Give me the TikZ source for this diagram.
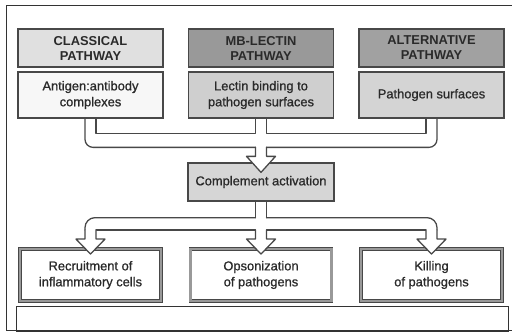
\documentclass[tikz,border=0pt]{standalone}
\usepackage{fontspec}
\setmainfont{Liberation Sans}
\newfontfamily\medfont{Liberation Sans}[FakeBold=0.9]
\usetikzlibrary{calc}
\definecolor{edge}{HTML}{484848}
\definecolor{ink}{HTML}{2A2A2A}
\newcommand{\hw}{5.5}% half width of the pipes

\begin{document}
\begin{tikzpicture}[x=0.03cm,y=-0.03cm,
    box/.style={draw=edge, line width=1.1pt, minimum width=4.35cm, inner sep=0pt,
        align=center, text=ink, font=\medfont\fontsize{11}{13.6}\selectfont},
    head/.style={box, minimum height=1.14cm, font=\bfseries\fontsize{11}{12.8}\selectfont},
    body/.style={box, minimum height=1.38cm},
    result/.style={box, line width=0.75pt, double=black!40, double distance=1.8pt,
        minimum width=4.23cm, minimum height=1.56cm},
    pipe/.style={draw=edge, line width=1.1pt, line cap=round, line join=round},
    frame/.style={draw=black!80, line width=0.6pt}]

    \useasboundingbox (0,0) rectangle (512,331);

    % outer frame and empty caption box
    \draw[frame] (512,5) -- (6,5) -- (6,330) -- (512,330);
    \draw[frame] (16,306) rectangle (508,331);

    % pathways
    \node[head, fill=black!12] (classhead) at (90.5,48) {CLASSICAL\\PATHWAY};
    \node[head, fill=black!40] (lectinhead) at (261,48) {MB-LECTIN\\PATHWAY};
    \node[head, fill=black!37] (althead) at (431.5,48) {ALTERNATIVE\\PATHWAY};
    \node[body, fill=black!3] (classbody) at (90.5,95) {Antigen:antibody\\complexes};
    \node[body, fill=black!19] (lectinbody) at (261,95) {Lectin binding to\\pathogen surfaces};
    \node[body, fill=black!17] (altbody) at (431.5,95) {Pathogen surfaces};

    % activation
    \node[box, fill=black!16, minimum width=4.38cm, minimum height=1.14cm] (act) at (261,182) {Complement activation};

    % outcomes
    \node[result] (recruit) at (90.5,275) {Recruitment of\\inflammatory cells};
    \node[result] (opson) at (261,275) {Opsonization\\of pathogens};
    \node[result] (kill) at (431.5,275) {Killing\\of pathogens};

    % merging pipe into activation
    \draw[pipe] ($(classbody.south)+(\hw,0)$) |- ($(lectinbody.south)+(-\hw,15)$) -- ($(lectinbody.south)+(-\hw,0)$);
    \draw[pipe] ($(lectinbody.south)+(\hw,0)$) |- ($(altbody.south)+(-\hw,15)$) -- ($(altbody.south)+(-\hw,0)$);
    \draw[pipe, rounded corners=0.24cm] ($(classbody.south)+(-\hw,0)$) |- ($(act.north)+(-\hw,-15)$);
    \draw[pipe, rounded corners=0.24cm] ($(altbody.south)+(\hw,0)$) |- ($(act.north)+(\hw,-15)$);
    \filldraw[pipe, fill=white] ($(act.north)+(-\hw,-15)$) -- ($(act.north)+(-\hw,-6)$) -- ($(act.north)+(-14.5,-6)$)
        -- ($(act.north)+(0,10)$) -- ($(act.north)+(14.5,-6)$) -- ($(act.north)+(\hw,-6)$) -- ($(act.north)+(\hw,-15)$);

    % splitting pipe to the outcomes
    \draw[pipe] ($(act.south)+(-\hw,0)$) -- ($(act.south)+(-\hw,16)$);
    \draw[pipe] ($(act.south)+(\hw,0)$) -- ($(act.south)+(\hw,16)$);
    \draw[pipe, rounded corners=0.3cm] ($(act.south)+(-\hw,16)$) -| ($(recruit.north)+(-\hw,-18.5)$);
    \draw[pipe, rounded corners=0.3cm] ($(act.south)+(\hw,16)$) -| ($(kill.north)+(\hw,-18.5)$);
    \draw[pipe] ($(recruit.north)+(\hw,-18.5)$) -- ($(opson.north)+(-\hw,-18.5)$);
    \draw[pipe] ($(opson.north)+(\hw,-18.5)$) -- ($(kill.north)+(-\hw,-18.5)$);
    \foreach \n in {recruit,opson,kill}
        \filldraw[pipe, fill=white] ($(\n.north)+(-\hw,-18.5)$) -- ($(\n.north)+(-\hw,-9.5)$) -- ($(\n.north)+(-14.5,-9.5)$)
            -- ($(\n.north)+(0,5.5)$) -- ($(\n.north)+(14.5,-9.5)$) -- ($(\n.north)+(\hw,-9.5)$) -- ($(\n.north)+(\hw,-18.5)$);
\end{tikzpicture}
\end{document}
